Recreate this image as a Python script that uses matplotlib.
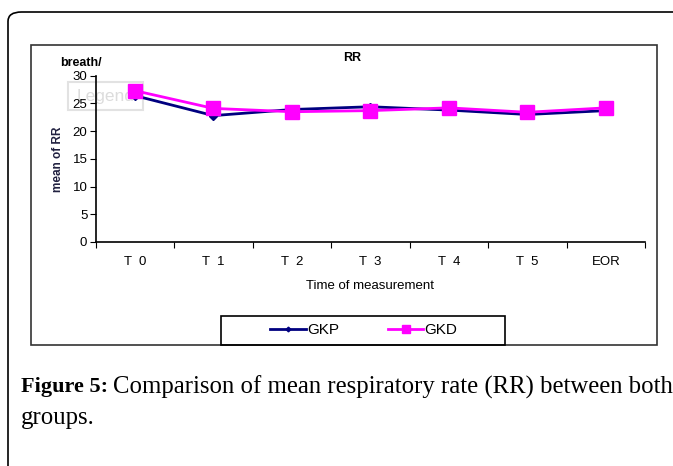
import matplotlib.pyplot as plt
from matplotlib.patches import Rectangle, FancyBboxPatch

categories = ['T  0', 'T  1', 'T  2', 'T  3', 'T  4', 'T  5', 'EOR']
gkp = [26.4, 22.8, 23.9, 24.4, 23.8, 23.0, 23.7]
gkd = [27.3, 24.1, 23.5, 23.7, 24.2, 23.4, 24.2]
yticks = [0, 5, 10, 15, 20, 25, 30]

W, H = 673, 466
fig = plt.figure(figsize=(W / 100, H / 100), dpi=100)
fig.patch.set_facecolor('white')

def fx(x):
    return x / W

def fy(y):
    return 1 - y / H

# outer rounded frame (runs off the right and bottom edges)
fig.patches.append(FancyBboxPatch((fx(8), fy(500)), fx(800), (500 - 12) / H,
                                  boxstyle='round,pad=0,rounding_size=0.02',
                                  transform=fig.transFigure, fill=False,
                                  ec='black', lw=1.2))
# inner chart frame
fig.patches.append(Rectangle((fx(31), fy(345)), fx(657 - 31), (345 - 45) / H,
                             transform=fig.transFigure, fill=False,
                             ec='#333333', lw=1.2))
# legend frame
fig.patches.append(Rectangle((fx(221), fy(345)), fx(505 - 221), (345 - 316) / H,
                             transform=fig.transFigure, fill=False,
                             ec='black', lw=1.2))
# faint ghost "Legend" box left behind in the original, sits under the lines
fig.patches.append(Rectangle((fx(68), fy(110)), fx(143 - 68), (110 - 82) / H,
                             transform=fig.transFigure, fc='white',
                             ec='#e2e2e2', lw=1.5, zorder=-2))
fig.text(fx(106), fy(96), 'Legend', ha='center', va='center', color='#dcdcdc',
         fontfamily='Liberation Sans', fontsize=12.5, zorder=-1)

ax = fig.add_axes([fx(95.7), fy(242), fx(645 - 95.7), (242 - 75.7) / H])
x = list(range(len(categories)))
ax.plot(x, gkp, color='#000080', lw=2, marker='D', ms=4, label='GKP', zorder=3)
ax.plot(x, gkd, color='#FF00FF', lw=2, marker='s', ms=10, label='GKD', zorder=4)

ax.set_xlim(-0.5, len(categories) - 0.5)
ax.set_ylim(0, 30)
ax.set_yticks(yticks)
ax.set_xticks([i - 0.5 for i in range(len(categories) + 1)])
ax.set_xticklabels([])
ax.set_xticks(x, minor=True)
ax.set_xticklabels(categories, minor=True)
ax.tick_params(axis='x', which='minor', length=0, pad=10)
ax.tick_params(axis='x', which='major', length=4, direction='out')
ax.tick_params(axis='y', length=4, direction='out', pad=2)
for lab in ax.get_xticklabels(minor=True) + ax.get_yticklabels():
    lab.set_fontfamily('Liberation Sans')
    lab.set_fontsize(9.5)
for s in ['top', 'right']:
    ax.spines[s].set_visible(False)
ax.spines['left'].set_linewidth(1.2)
ax.spines['bottom'].set_linewidth(1.2)
ax.patch.set_alpha(0)

ax.set_xlabel('Time of measurement', fontfamily='Liberation Sans', fontsize=9.5, labelpad=9)
ax.set_ylabel('mean of RR', fontfamily='Liberation Sans', fontsize=8.5,
              fontweight='bold', color='#202040', labelpad=6)

fig.text(fx(352), fy(58), 'RR', ha='center', va='center', fontweight='bold',
         fontfamily='Liberation Sans', fontsize=9)
fig.text(fx(60), fy(63), 'breath/', ha='left', va='center', fontweight='bold',
         fontfamily='Liberation Sans', fontsize=9)

leg = fig.legend(loc='center', bbox_to_anchor=(fx(364), fy(330)), ncol=2,
                 frameon=False, prop={'family': 'Liberation Sans', 'size': 11},
                 handlelength=2.3, columnspacing=3.2, borderpad=0.2,
                 handletextpad=0.1)
for h in leg.legend_handles:
    h.set_markersize(h.get_markersize() * 0.6)

fig.text(fx(21), fy(387), 'Figure 5:', ha='left', va='center', fontweight='bold',
         fontfamily='Liberation Serif', fontsize=16)
fig.text(fx(113), fy(387), 'Comparison of mean respiratory rate (RR) between both',
         ha='left', va='center', fontfamily='Liberation Serif', fontsize=17.8)
fig.text(fx(21), fy(418), 'groups.', ha='left', va='center',
         fontfamily='Liberation Serif', fontsize=17.8)

fig.savefig('out.png', dpi=100)
